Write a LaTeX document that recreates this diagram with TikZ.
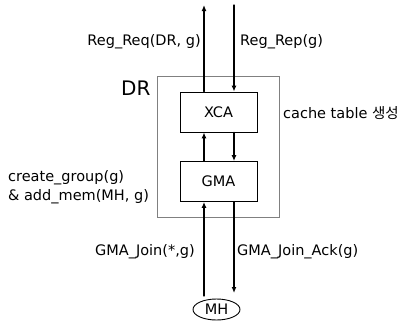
\documentclass[tikz,border=0pt]{standalone}
\usepackage{fontspec}
\setmainfont{DejaVu Sans}
\newfontfamily\krfont{Noto Sans CJK KR}
\usetikzlibrary{arrows.meta,shapes.geometric}

\begin{document}
\begin{tikzpicture}[x=1pt,y=-1pt,>={Latex[length=6pt,width=5pt]},
  font=\fontsize{14.5}{19}\selectfont,line cap=round,
  blk/.style={draw,line width=0.9pt,minimum width=77pt,minimum height=40pt,inner sep=0pt},
  msg/.style={->,line width=1.3pt},
  lbl/.style={inner sep=0pt}]
\useasboundingbox (0,0) rectangle (405,330);
% DR and its two agents
\node[draw=black!50,line width=0.8pt,minimum width=122pt,minimum height=141pt,inner sep=0pt] (dr) at (218.5,147) {};
\node[anchor=east,font=\fontsize{20}{22}\selectfont] (drlbl) at (154,88) {DR};
\node[blk] (xca) at (218.5,112) {XCA};
\node[blk] (gma) at (218.5,181.5) {GMA};
\node[draw,ellipse,line width=0.9pt,minimum width=47pt,minimum height=21pt,inner sep=0pt] (mh) at (216.5,309.5) {MH};
% free ends
\coordinate (reqend) at (204,5);
\coordinate (repend) at (234,5);
\coordinate (joinend) at (204,296);
\coordinate (ackend) at (234,293);
% messages
\draw[msg] (xca.north -| reqend) -- (reqend);
\draw[msg] (repend) -- (xca.north -| repend);
\draw[msg] (gma.north -| reqend) -- (xca.south -| reqend);
\draw[msg] (xca.south -| repend) -- (gma.north -| repend);
\draw[msg] (joinend) -- (gma.south -| joinend);
\draw[msg] (gma.south -| ackend) -- (ackend);
% labels
\node[lbl,anchor=east] (reqlbl) at (201,42) {Reg\_Req(DR, g)};
\node[lbl,anchor=west] (replbl) at (240,42) {Reg\_Rep(g)};
\node[lbl,anchor=west] (cachelbl) at (283,113) {cache table {\krfont 생성}};
\node[lbl,anchor=west,align=left] (grplbl) at (8,187.5) {create\_group(g)\\\& add\_mem(MH, g)};
\node[lbl,anchor=east] (joinlbl) at (195,252) {GMA\_Join(*,g)};
\node[lbl,anchor=west] (acklbl) at (237,252) {GMA\_Join\_Ack(g)};
\end{tikzpicture}
\end{document}
